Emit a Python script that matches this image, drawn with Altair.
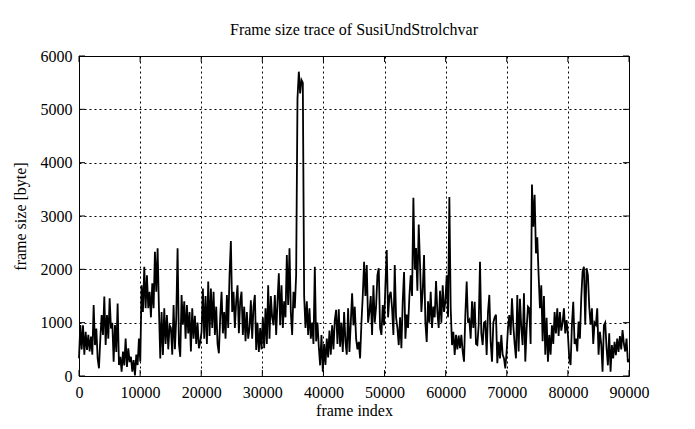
import altair as alt
import pandas as pd

seg1 = [330, 956, 500, 950, 400, 830, 490, 770, 460, 740, 400, 1330, 580, 890, 330, 144,
        700, 1144, 770, 1490, 580, 1144, 700, 1456, 890, 1000, 270, 956, 450, 1360, 206, 360,
        80, 456, 200, 700, 170, 520, 260, 360, 80, 300, 10, 400, 206, 700, 270, 1700,
        1200, 2050, 1270, 1890, 1270, 1580, 1100, 1740, 1270, 2330, 1580, 2394, 1270, 330, 1200, 394,
        1270, 600, 1144, 500, 950]
seg2 = [900, 400, 1330, 500, 1100, 2394, 600, 360, 1520, 960, 1400, 700, 1330, 800, 1200, 460,
        1270, 700, 1130, 600, 1000, 520, 640, 830, 1640, 700, 1500, 600, 1770, 750, 1640, 900,
        1580, 770, 1300, 600, 425, 1100, 1580, 800, 1200, 700, 1520, 900, 1900, 2530, 1200, 1580,
        900, 1400, 1700, 800, 1400, 1580, 770, 1300, 650, 1200, 700, 900, 1420, 700, 1300, 1520,
        490, 1000, 450, 900, 500]
seg3 = [1100, 520, 1270, 600, 1700, 700, 1500, 1100, 950, 1520, 770, 1400, 1925, 950, 1700, 900,
        1400, 1100, 2270, 1330, 2394, 1200, 770, 1580, 1270, 1900, 5200, 5706, 5300, 5550, 5500, 1500,
        900, 1400, 770, 1270, 700, 1000, 600, 2050, 650, 1000, 550, 200, 770, 80, 600, 206,
        700, 350, 850, 400, 950, 500, 1050, 1240, 600, 1250, 550, 1000, 450, 1200, 650, 400,
        1270, 450, 1000, 1550, 950]
seg4 = [1300, 700, 500, 640, 330, 1000, 1500, 2140, 1500, 2080, 1000, 1200, 1500, 770, 1700, 1000,
        1300, 1890, 2020, 900, 770, 1330, 950, 1700, 2360, 1100, 1500, 1580, 1270, 770, 2080, 1100,
        900, 580, 1100, 520, 1400, 1950, 700, 1150, 900, 1500, 1890, 1500, 3340, 2000, 2400, 1600,
        2840, 2080, 1200, 1600, 2270, 1000, 640, 1400, 1000, 1580, 900, 1300, 1100, 1780, 1200, 900,
        1600, 1000, 1700, 1200, 1400]
seg5 = [1890, 1100, 3356, 1270, 580, 830, 394, 770, 500, 760, 520, 770, 460, 270, 1150, 1770,
        1000, 1050, 700, 1400, 900, 1390, 600, 580, 950, 2140, 800, 580, 1000, 1020, 394, 1200,
        1520, 640, 270, 1000, 1100, 1150, 240, 640, 330, 770, 400, 330, 144, 460, 900, 1144,
        770, 1456, 950, 600, 331, 1520, 460, 1450, 900, 580, 1550, 270, 890, 1300, 1270, 600,
        3590, 2800, 3400, 2300, 2600]
seg6 = [1890, 1270, 1700, 650, 1500, 400, 1090, 270, 770, 400, 950, 600, 1200, 800, 1270, 750,
        1200, 850, 1000, 1270, 800, 1050, 770, 330, 206, 960, 1390, 600, 700, 460, 1020, 700,
        1460, 1960, 2050, 960, 2020, 1890, 1300, 960, 1270, 600, 1000, 960, 1270, 400, 830, 600,
        80, 950, 1000, 520, 200, 800, 80, 580, 330, 640, 390, 700, 450, 750, 500, 860,
        600, 460, 700, 260, 320]

sizes = seg1 + seg2 + seg3 + seg4 + seg5 + seg6
step = 218
frames = [i * step for i in range(len(sizes))]
frames[-1] = 90000

x_ticks = [0, 10000, 20000, 30000, 40000, 50000, 60000, 70000, 80000, 90000]
y_ticks = [0, 1000, 2000, 3000, 4000, 5000, 6000]

FONT = "Liberation Serif"
W, H = 550, 320

df = pd.DataFrame({"frame": frames, "size": sizes})
xs = alt.Scale(domain=[0, 90000], nice=False, zero=False)
ys = alt.Scale(domain=[0, 6000], nice=False)

x_axis = alt.Axis(values=x_ticks, format="d", labelAlign="center",
                  labelFlush=False, labelOverlap=False)
y_axis = alt.Axis(values=y_ticks, format="d", labelFlush=False,
                  labelOverlap=False, labelAlign="right", labelBaseline="middle")

line = alt.Chart(df).mark_line(color="black", strokeWidth=1.8, strokeJoin="miter").encode(
    x=alt.X("frame:Q", scale=xs, title="frame index", axis=x_axis),
    y=alt.Y("size:Q", scale=ys, title="frame size [byte]", axis=y_axis),
)

xt = pd.DataFrame({"frame": x_ticks})
yt = pd.DataFrame({"size": y_ticks})
tick_bottom = alt.Chart(xt).mark_rule(color="black", strokeWidth=1).encode(
    x=alt.X("frame:Q", scale=xs, title="frame index", axis=x_axis),
    y=alt.value(H), y2=alt.value(H - 6))
tick_top = alt.Chart(xt).mark_rule(color="black", strokeWidth=1).encode(
    x=alt.X("frame:Q", scale=xs, title="frame index", axis=x_axis),
    y=alt.value(0), y2=alt.value(6))
tick_left = alt.Chart(yt).mark_rule(color="black", strokeWidth=1).encode(
    y=alt.Y("size:Q", scale=ys, title="frame size [byte]", axis=y_axis),
    x=alt.value(0), x2=alt.value(6))
tick_right = alt.Chart(yt).mark_rule(color="black", strokeWidth=1).encode(
    y=alt.Y("size:Q", scale=ys, title="frame size [byte]", axis=y_axis),
    x=alt.value(W), x2=alt.value(W - 6))

chart = alt.layer(line, tick_bottom, tick_top, tick_left, tick_right).properties(
    width=W, height=H,
    title=alt.TitleParams("Frame size trace of SusiUndStrolchvar", font=FONT,
                          fontSize=16, fontWeight="normal", color="black",
                          anchor="middle", offset=10),
    autosize=alt.AutoSizeParams(type="none"),
    padding={"left": 71, "top": 48, "right": 58, "bottom": 45},
).configure_view(stroke="black", strokeWidth=1).configure_axis(
    domain=False, ticks=False, grid=True, gridColor="black",
    gridDash=[2, 3], gridWidth=1, gridOpacity=1,
    labelFont=FONT, labelFontSize=16, labelColor="black",
    titleFont=FONT, titleFontSize=16, titleFontWeight="normal", titleColor="black",
).configure_axisX(labelPadding=8, titlePadding=2).configure_axisY(
    labelPadding=7, titlePadding=12
)

chart.save("out.html", embed_options={"renderer": "svg", "actions": False})
